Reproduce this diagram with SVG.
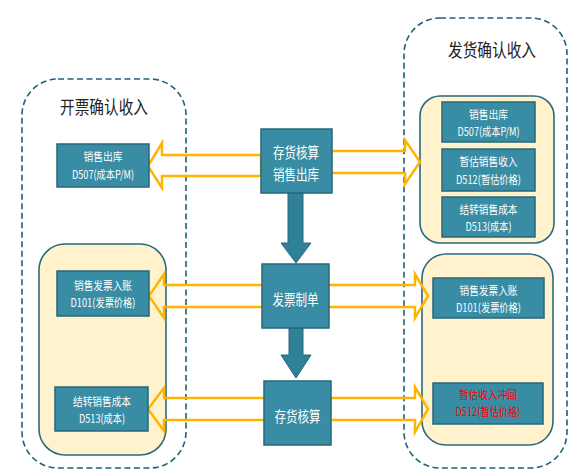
<svg xmlns="http://www.w3.org/2000/svg" width="569" height="474" viewBox="0 0 569 474">
<style>
.outer{fill:none;stroke:#22607A;stroke-width:1.6;stroke-dasharray:6,3.5}
.grp{fill:#FFF2CC;stroke:#2A6A7C;stroke-width:1.6}
.box{fill:#388DA4;stroke:#27677A;stroke-width:1.5}
.arr{fill:none;stroke:#FFB400;stroke-width:2.5;stroke-linejoin:miter}
.down{fill:#2F8198;stroke:#27677A;stroke-width:1}
text{font-family:"Noto Sans CJK SC","Liberation Sans",sans-serif;text-anchor:middle}
.t{fill:#ffffff;font-size:11.5px}
.r{fill:#FF0000;font-size:11.5px}
.c{fill:#ffffff;font-size:15px}
.h{fill:#222222;font-size:18px}
</style>
<rect width="569" height="474" fill="#ffffff"/>
<g id="left-area">
<rect class="outer" x="22" y="79" width="164" height="389" rx="36"/>
<text class="h" x="104" y="114" textLength="88" lengthAdjust="spacingAndGlyphs">开票确认收入</text>
</g>
<g id="right-area">
<rect class="outer" x="404" y="18" width="163" height="450" rx="36"/>
<text class="h" x="492" y="57" textLength="88" lengthAdjust="spacingAndGlyphs">发货确认收入</text>
</g>
<g id="left-group">
<rect class="grp" x="39" y="244" width="127" height="211" rx="26"/>
</g>
<g id="right-group-1">
<rect class="grp" x="420" y="96" width="134" height="147" rx="20"/>
</g>
<g id="right-group-2">
<rect class="grp" x="422" y="254" width="131" height="191" rx="24"/>
</g>
<g id="connectors">
<polygon class="arr" points="261,155 162,155 162,143 148,166 162,188 162,176 261,176"/>
<polygon class="arr" points="331,151 405,151 405,140 420,162 405,184 405,173 331,173"/>
<polygon class="arr" points="263,285 164,285 164,274 149,296 164,318 164,307 263,307"/>
<polygon class="arr" points="328,285 415,285 415,274 428,296 415,318 415,307 328,307"/>
<polygon class="arr" points="265,398 164,398 164,388 148,409 164,431 164,420 265,420"/>
<polygon class="arr" points="330,398 415,398 415,387 428,409 415,432 415,420 330,420"/>
<polygon class="down" points="288,193 303,193 303,243 311,243 296,263 281,243 288,243"/>
<polygon class="down" points="289,328 303,328 303,355 311,355 296,378 281,355 289,355"/>
</g>
<g id="n-left-1">
<rect class="box" x="57" y="144" width="92" height="43"/>
<text class="t" x="103" y="161" textLength="39" lengthAdjust="spacingAndGlyphs">销售出库</text>
<text class="t" x="103" y="179" textLength="62" lengthAdjust="spacingAndGlyphs">D507(成本P/M)</text>
</g>
<g id="n-left-2">
<rect class="box" x="57" y="271" width="92" height="45"/>
<text class="t" x="103" y="290" textLength="58" lengthAdjust="spacingAndGlyphs">销售发票入账</text>
<text class="t" x="103" y="307" textLength="65" lengthAdjust="spacingAndGlyphs">D101(发票价格)</text>
</g>
<g id="n-left-3">
<rect class="box" x="55" y="387" width="93" height="44"/>
<text class="t" x="102" y="406" textLength="58" lengthAdjust="spacingAndGlyphs">结转销售成本</text>
<text class="t" x="102" y="423" textLength="46" lengthAdjust="spacingAndGlyphs">D513(成本)</text>
</g>
<g id="n-center-1">
<rect class="box" x="261" y="129" width="71" height="64"/>
<text class="c" x="296" y="158" textLength="46" lengthAdjust="spacingAndGlyphs">存货核算</text>
<text class="c" x="296" y="180" textLength="46" lengthAdjust="spacingAndGlyphs">销售出库</text>
</g>
<g id="n-center-2">
<rect class="box" x="262" y="264" width="67" height="64"/>
<text class="c" x="295.5" y="305" textLength="46" lengthAdjust="spacingAndGlyphs">发票制单</text>
</g>
<g id="n-center-3">
<rect class="box" x="264" y="381" width="67" height="64"/>
<text class="c" x="297.5" y="422" textLength="46" lengthAdjust="spacingAndGlyphs">存货核算</text>
</g>
<g id="n-right-1">
<rect class="box" x="442" y="102" width="93" height="40"/>
<text class="t" x="488.5" y="119" textLength="39" lengthAdjust="spacingAndGlyphs">销售出库</text>
<text class="t" x="488.5" y="136" textLength="62" lengthAdjust="spacingAndGlyphs">D507(成本P/M)</text>
</g>
<g id="n-right-2">
<rect class="box" x="442" y="149" width="93" height="42"/>
<text class="t" x="488.5" y="166" textLength="58" lengthAdjust="spacingAndGlyphs">暂估销售收入</text>
<text class="t" x="488.5" y="184" textLength="65" lengthAdjust="spacingAndGlyphs">D512(暂估价格)</text>
</g>
<g id="n-right-3">
<rect class="box" x="442" y="197" width="93" height="40"/>
<text class="t" x="488.5" y="214" textLength="58" lengthAdjust="spacingAndGlyphs">结转销售成本</text>
<text class="t" x="488.5" y="231" textLength="46" lengthAdjust="spacingAndGlyphs">D513(成本)</text>
</g>
<g id="n-right-4">
<rect class="box" x="433" y="278" width="111" height="40"/>
<text class="t" x="488.5" y="295" textLength="58" lengthAdjust="spacingAndGlyphs">销售发票入账</text>
<text class="t" x="488.5" y="312" textLength="65" lengthAdjust="spacingAndGlyphs">D101(发票价格)</text>
</g>
<g id="n-right-5">
<rect class="box" x="433" y="383" width="110" height="41"/>
<text class="r" x="488" y="399" textLength="58" lengthAdjust="spacingAndGlyphs">暂估收入冲回</text>
<text class="r" x="488" y="416" textLength="65" lengthAdjust="spacingAndGlyphs">D512(暂估价格)</text>
</g>
</svg>
